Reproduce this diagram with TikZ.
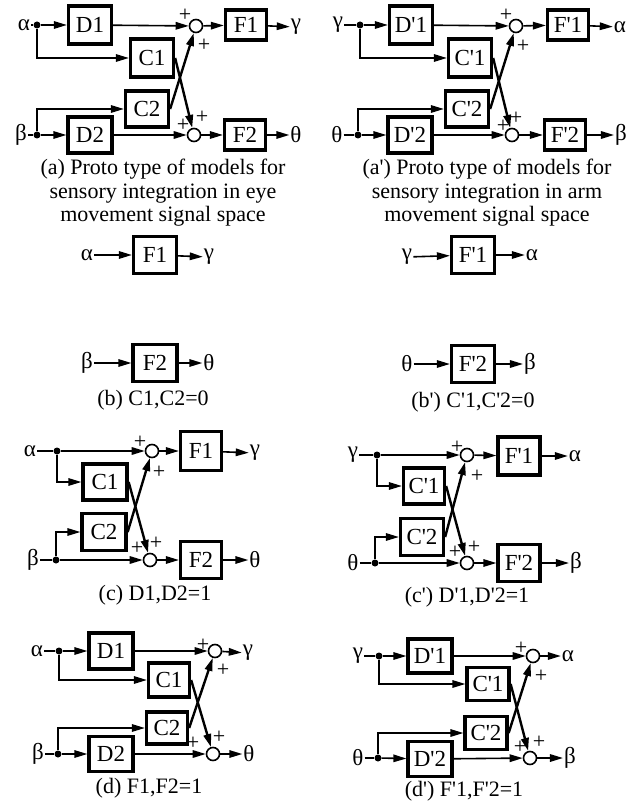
\documentclass[tikz,border=0pt]{standalone}
\usepackage{fontspec}
\setmainfont{Liberation Serif}
\usetikzlibrary{arrows.meta}
\newcommand{\q}{\textquotesingle}
\begin{document}
\begin{tikzpicture}[x=1pt,y=-1pt,
  blk/.style={draw,line width=3.3pt,minimum width=41pt,minimum height=34pt,inner sep=0pt,font=\fontsize{23}{23}\selectfont},
  sumn/.style={circle,draw,line width=1.6pt,minimum size=13pt,inner sep=0pt},
  dotn/.style={circle,fill,minimum size=7pt,inner sep=0pt},
  sig/.style={inner sep=1pt,font=\fontsize{23}{23}\selectfont},
  pl/.style={inner sep=0pt,font=\fontsize{22}{22}\selectfont},
  capt/.style={inner sep=0pt,align=center,font=\fontsize{22}{23.5}\selectfont},
  ln/.style={line width=1.6pt},
  conn/.style={line width=1.6pt,-{Triangle[length=13pt,width=7.5pt]}},
  crs/.style={line width=2.4pt,-{Triangle[length=13pt,width=7.5pt]}}]
\useasboundingbox (0,0) rectangle (629,802);

% ---------------- panel (a) ----------------
\node[sig] (aA) at (24,25) {α};
\node[dotn] (aDa) at (37,25) {};
\node[blk,minimum width=43pt,minimum height=38pt] (aD1) at (90,25) {D1};
\node[sumn] (aS1) at (196,26) {};
\node[blk,minimum height=30pt] (aF1) at (246,25) {F1};
\node[sig] (aG) at (296,27) {γ};
\node[blk,minimum width=43pt,minimum height=38pt] (aC1) at (152,58) {C1};
\node[blk,minimum width=43pt,minimum height=36pt] (aC2) at (147,109) {C2};
\node[sig] (aB) at (21,135) {β};
\node[dotn] (aDb) at (37,135) {};
\node[blk,minimum width=44pt,minimum height=36pt] (aD2) at (90,135) {D2};
\node[sumn] (aS2) at (194,135) {};
\node[blk,minimum height=30pt] (aF2) at (245,135) {F2};
\node[sig] (aT) at (296,135) {θ};
\draw[ln] (aA) -- (aDa);
\draw[conn] (aDa) -- (aD1);
\draw[conn] (aD1) -- (aS1);
\draw[conn] (aS1) -- (aF1);
\draw[conn] (aF1) -- (aG);
\draw[conn] (aDa) |- (aC1);
\draw[ln] (aB) -- (aDb);
\draw[conn] (aDb) -- (aD2);
\draw[conn] (aD2) -- (aS2);
\draw[conn] (aS2) -- (aF2);
\draw[conn] (aF2) -- (aT);
\draw[conn] (aDb) |- (aC2);
\draw[crs] (aC1.east) -- (aS2);
\draw[crs] (aC2.east) -- (aS1);
\node[pl] (ap1) at (185,15) {+};
\node[pl] (ap2) at (204,45) {+};
\node[pl] (ap3) at (183,125) {+};
\node[pl] (ap4) at (202,117) {+};
\node[capt] (acap) at (163,193) {(a) Proto type of models for\\sensory integration in eye\\movement signal space};

% ---------------- panel (a') ----------------
\node[sig] (pA) at (338,25) {γ};
\node[dotn] (pDa) at (360,25) {};
\node[blk,minimum width=43pt,minimum height=38pt] (pD1) at (411,25) {D\q1};
\node[sumn] (pS1) at (516,26) {};
\node[blk,minimum height=30pt] (pF1) at (568,25) {F\q1};
\node[sig] (pG) at (620,27) {α};
\node[blk,minimum width=43pt,minimum height=38pt] (pC1) at (470,58) {C\q1};
\node[blk,minimum width=43pt,minimum height=36pt] (pC2) at (467,109) {C\q2};
\node[sig] (pB) at (337,135) {θ};
\node[dotn] (pDb) at (358,135) {};
\node[blk,minimum width=44pt,minimum height=36pt] (pD2) at (410,135) {D\q2};
\node[sumn] (pS2) at (512,135) {};
\node[blk,minimum height=30pt] (pF2) at (565,135) {F\q2};
\node[sig] (pT) at (621,135) {β};
\draw[ln] (pA) -- (pDa);
\draw[conn] (pDa) -- (pD1);
\draw[conn] (pD1) -- (pS1);
\draw[conn] (pS1) -- (pF1);
\draw[conn] (pF1) -- (pG);
\draw[conn] (pDa) |- (pC1);
\draw[ln] (pB) -- (pDb);
\draw[conn] (pDb) -- (pD2);
\draw[conn] (pD2) -- (pS2);
\draw[conn] (pS2) -- (pF2);
\draw[conn] (pF2) -- (pT);
\draw[conn] (pDb) |- (pC2);
\draw[crs] (pC1.east) -- (pS2);
\draw[crs] (pC2.east) -- (pS1);
\node[pl] (pp1) at (506,15) {+};
\node[pl] (pp2) at (523,46) {+};
\node[pl] (pp3) at (503,126) {+};
\node[pl] (pp4) at (516,118) {+};
\node[capt] (pcap) at (487,193) {(a\q) Proto type of models for\\sensory integration in arm\\movement signal space};

% ---------------- panel (b) ----------------
\node[sig] (bA) at (87,255) {α};
\node[blk,minimum width=43pt,minimum height=37pt] (bF1) at (155,255) {F1};
\node[sig] (bG) at (209,257) {γ};
\node[sig] (bB) at (87,363) {β};
\node[blk,minimum width=44pt,minimum height=37pt] (bF2) at (155,363) {F2};
\node[sig] (bT) at (209,363) {θ};
\draw[conn] (bA) -- (bF1);
\draw[conn] (bF1) -- (bG);
\draw[conn] (bB) -- (bF2);
\draw[conn] (bF2) -- (bT);
\node[capt] (bcap) at (153,400) {(b) C1,C2=0};

% ---------------- panel (b') ----------------
\node[sig] (qA) at (407,257) {γ};
\node[blk,minimum width=43pt,minimum height=37pt] (qF1) at (473,255) {F\q1};
\node[sig] (qG) at (532,255) {α};
\node[sig] (qB) at (407,364) {θ};
\node[blk,minimum width=43pt,minimum height=37pt] (qF2) at (473,364) {F\q2};
\node[sig] (qT) at (530,364) {β};
\draw[conn] (qA) -- (qF1);
\draw[conn] (qF1) -- (qG);
\draw[conn] (qB) -- (qF2);
\draw[conn] (qF2) -- (qT);
\node[capt] (qcap) at (473,402) {(b\q) C\q1,C\q2=0};

% ---------------- panel (c) ----------------
\node[sig] (cA) at (30,451) {α};
\node[dotn] (cDa) at (57,451) {};
\node[sumn] (cS1) at (152,451) {};
\node[blk,minimum width=41pt,minimum height=39pt] (cF1) at (201,451) {F1};
\node[sig] (cG) at (255,453) {γ};
\node[blk,minimum width=44pt,minimum height=36pt] (cC1) at (105,482) {C1};
\node[blk,minimum width=44pt,minimum height=37pt] (cC2) at (104,532) {C2};
\node[sig] (cB) at (33,560) {β};
\node[dotn] (cDb) at (56,560) {};
\node[sumn] (cS2) at (150,560) {};
\node[blk,minimum width=41pt,minimum height=37pt] (cF2) at (201,560) {F2};
\node[sig] (cT) at (255,560) {θ};
\draw[ln] (cA) -- (cDa);
\draw[conn] (cDa) -- (cS1);
\draw[conn] (cS1) -- (cF1);
\draw[conn] (cF1) -- (cG);
\draw[conn] (cDa) |- (cC1);
\draw[ln] (cB) -- (cDb);
\draw[conn] (cDb) -- (cS2);
\draw[conn] (cS2) -- (cF2);
\draw[conn] (cF2) -- (cT);
\draw[conn] (cDb) |- (cC2);
\draw[crs] (cC1.east) -- (cS2);
\draw[crs] (cC2.east) -- (cS1);
\node[pl] (cp1) at (140,442) {+};
\node[pl] (cp2) at (159,472) {+};
\node[pl] (cp3) at (137,548) {+};
\node[pl] (cp4) at (156,543) {+};
\node[capt] (ccap) at (155,595) {(c) D1,D2=1};

% ---------------- panel (c') ----------------
\node[sig] (rA) at (353,455) {γ};
\node[dotn] (rDa) at (377,455) {};
\node[sumn] (rS1) at (467,455) {};
\node[blk,minimum width=42pt,minimum height=38pt] (rF1) at (519,456) {F\q1};
\node[sig] (rG) at (575,456) {α};
\node[blk,minimum width=41pt,minimum height=36pt] (rC1) at (424,486) {C\q1};
\node[blk,minimum width=43pt,minimum height=37pt] (rC2) at (422,537) {C\q2};
\node[sig] (rB) at (353,563) {θ};
\node[dotn] (rDb) at (375,563) {};
\node[sumn] (rS2) at (467,563) {};
\node[blk,minimum width=42pt,minimum height=37pt] (rF2) at (519,563) {F\q2};
\node[sig] (rT) at (576,563) {β};
\draw[ln] (rA) -- (rDa);
\draw[conn] (rDa) -- (rS1);
\draw[conn] (rS1) -- (rF1);
\draw[conn] (rF1) -- (rG);
\draw[conn] (rDa) |- (rC1);
\draw[ln] (rB) -- (rDb);
\draw[conn] (rDb) -- (rS2);
\draw[conn] (rS2) -- (rF2);
\draw[conn] (rF2) -- (rT);
\draw[conn] (rDb) |- (rC2);
\draw[crs] (rC1.east) -- (rS2);
\draw[crs] (rC2.east) -- (rS1);
\node[pl] (rp1) at (457,447) {+};
\node[pl] (rp2) at (477,476) {+};
\node[pl] (rp3) at (455,552) {+};
\node[pl] (rp4) at (474,547) {+};
\node[capt] (rcap) at (467,597) {(c\q) D\q1,D\q2=1};

% ---------------- panel (d) ----------------
\node[sig] (dA) at (37,651) {α};
\node[dotn] (dDa) at (59,651) {};
\node[blk,minimum width=44pt,minimum height=36pt] (dD1) at (111,651) {D1};
\node[sumn] (dS1) at (215,651) {};
\node[sig] (dG) at (248,653) {γ};
\node[blk,minimum width=41pt,minimum height=34pt] (dC1) at (169,680) {C1};
\node[blk,minimum width=41pt,minimum height=32pt] (dC2) at (167,728) {C2};
\node[sig] (dB) at (38,754) {β};
\node[dotn] (dDb) at (58,754) {};
\node[blk,minimum width=44pt,minimum height=35pt] (dD2) at (111,754) {D2};
\node[sumn] (dS2) at (213,754) {};
\node[sig] (dT) at (249,754) {θ};
\draw[ln] (dA) -- (dDa);
\draw[conn] (dDa) -- (dD1);
\draw[conn] (dD1) -- (dS1);
\draw[conn] (dS1) -- (dG);
\draw[conn] (dDa) |- (dC1);
\draw[ln] (dB) -- (dDb);
\draw[conn] (dDb) -- (dD2);
\draw[conn] (dD2) -- (dS2);
\draw[conn] (dS2) -- (dT);
\draw[conn] (dDb) |- (dC2);
\draw[crs] (dC1.east) -- (dS2);
\draw[crs] (dC2.east) -- (dS1);
\node[pl] (dp1) at (203,645) {+};
\node[pl] (dp2) at (223,670) {+};
\node[pl] (dp3) at (193,743) {+};
\node[pl] (dp4) at (219,737) {+};
\node[capt] (dcap) at (149,788) {(d) F1,F2=1};

% ---------------- panel (d') ----------------
\node[sig] (eA) at (358,656) {γ};
\node[dotn] (eDa) at (379,656) {};
\node[blk,minimum width=44pt,minimum height=34pt] (eD1) at (430,656) {D\q1};
\node[sumn] (eS1) at (533,656) {};
\node[sig] (eG) at (568,656) {α};
\node[blk,minimum width=42pt,minimum height=33pt] (eC1) at (488,684) {C\q1};
\node[blk,minimum width=42pt,minimum height=33pt] (eC2) at (486,733) {C\q2};
\node[sig] (eB) at (358,758) {θ};
\node[dotn] (eDb) at (378,758) {};
\node[blk,minimum width=44pt,minimum height=35pt] (eD2) at (430,759) {D\q2};
\node[sumn] (eS2) at (530,758) {};
\node[sig] (eT) at (570,758) {β};
\draw[ln] (eA) -- (eDa);
\draw[conn] (eDa) -- (eD1);
\draw[conn] (eD1) -- (eS1);
\draw[conn] (eS1) -- (eG);
\draw[conn] (eDa) |- (eC1);
\draw[ln] (eB) -- (eDb);
\draw[conn] (eDb) -- (eD2);
\draw[conn] (eD2) -- (eS2);
\draw[conn] (eS2) -- (eT);
\draw[conn] (eDb) |- (eC2);
\draw[crs] (eC1.east) -- (eS2);
\draw[crs] (eC2.east) -- (eS1);
\node[pl] (ep1) at (521,648) {+};
\node[pl] (ep2) at (541,676) {+};
\node[pl] (ep3) at (520,747) {+};
\node[pl] (ep4) at (539,742) {+};
\node[capt] (ecap) at (464,791) {(d\q) F\q1,F\q2=1};
\end{tikzpicture}
\end{document}
